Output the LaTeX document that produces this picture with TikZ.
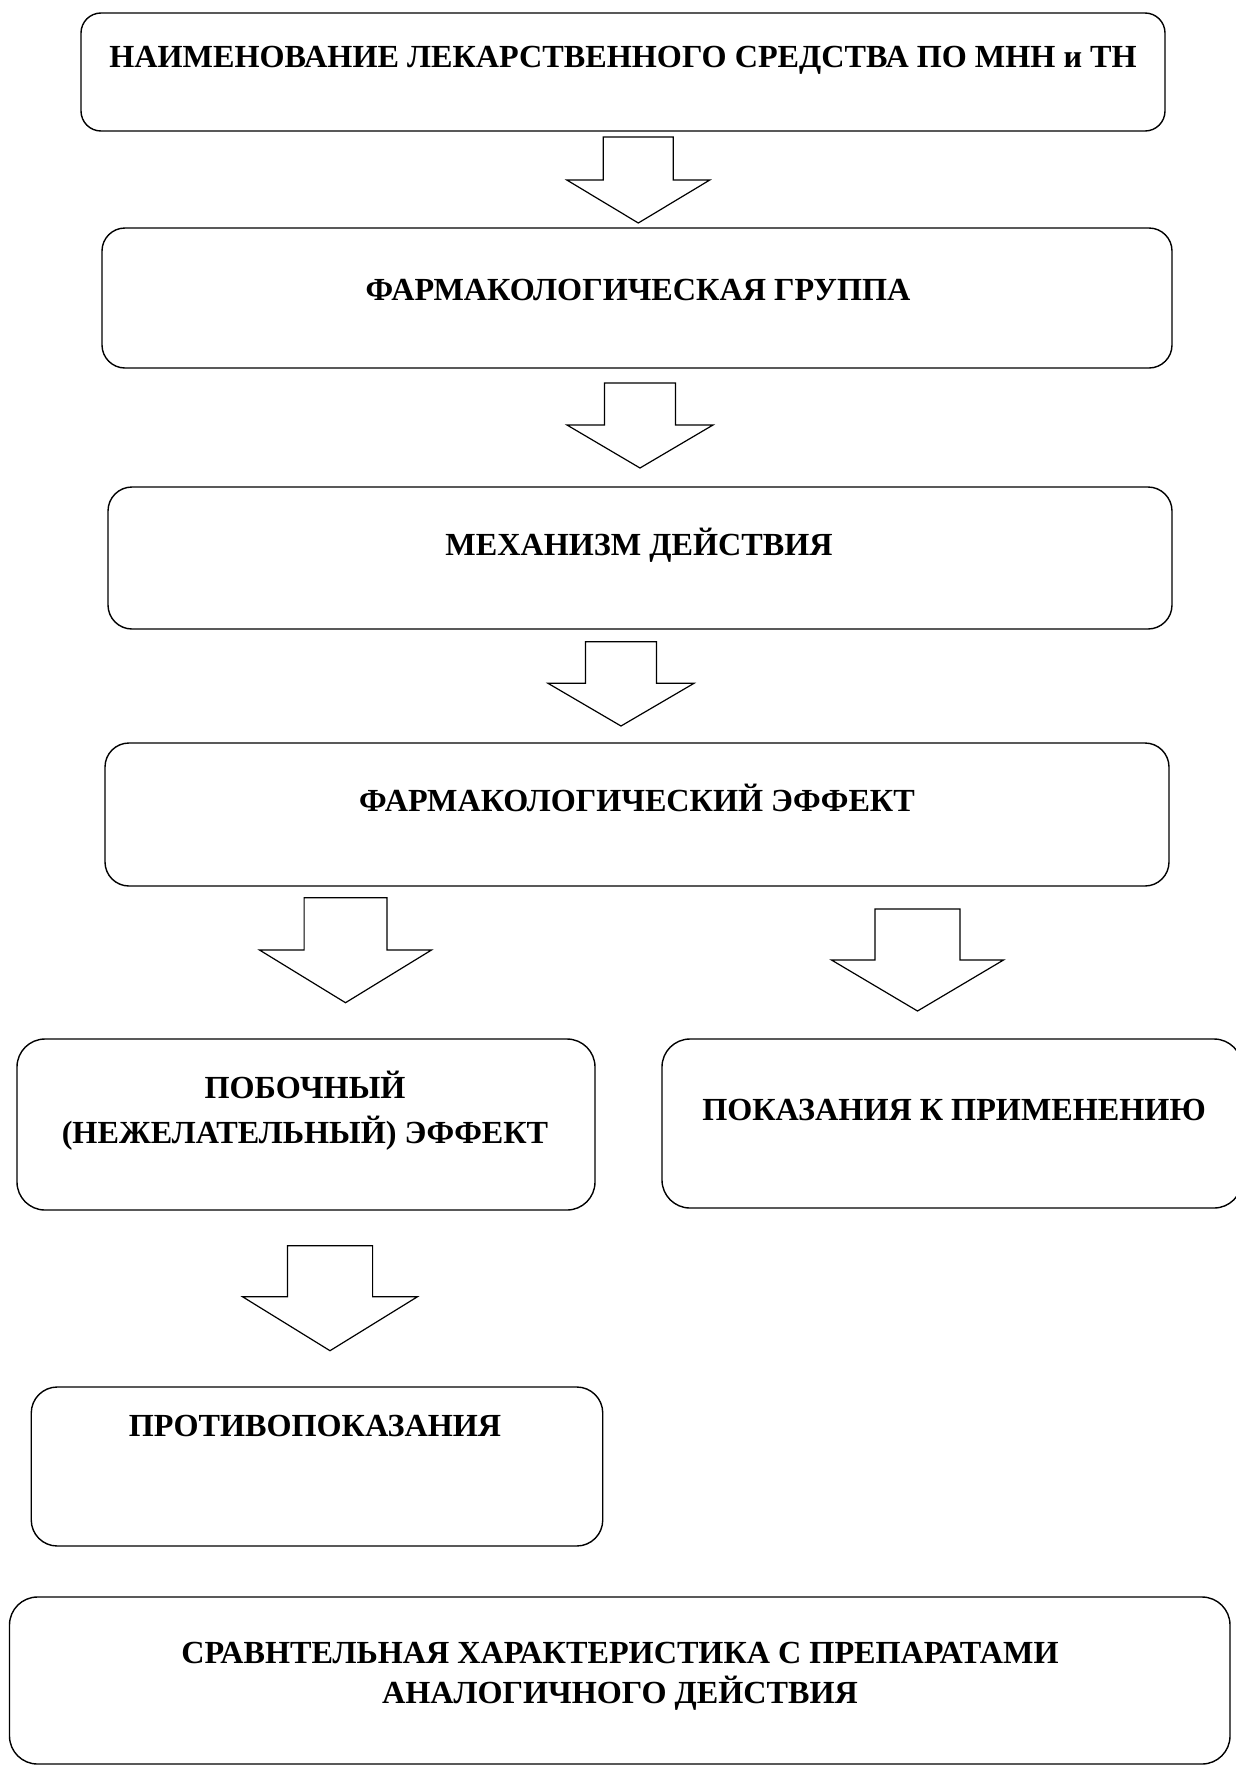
\documentclass[tikz,border=0pt]{standalone}
\usepackage{fontspec}
\setmainfont{Liberation Serif}
\newcommand\blockarrow[6]{% cx, shaft half, top, head base, head half, tip
  \draw[barrow] ({#1-#2},#3) -- ({#1+#2},#3) -- ({#1+#2},#4) -- ({#1+#5},#4)
    -- (#1,#6) -- ({#1-#5},#4) -- ({#1-#2},#4) -- cycle;}
\begin{document}
\begin{tikzpicture}[x=1pt,y=-1pt,
  box/.style={draw, line width=1.4pt, rectangle, inner sep=0pt, rounded corners=#1},
  box/.default=24pt,
  lbl/.style={font=\bfseries\fontsize{32.2}{40}\selectfont, inner sep=0pt, align=center, anchor=base},
  barrow/.style={draw, line width=1.2pt, line join=miter, fill=white}]
\useasboundingbox (0,0) rectangle (1236,1767);
\fill[white] (0,0) rectangle (1236,1767);
% boxes
\node[box=20pt, minimum width=1084pt, minimum height=118pt] (b1) at (623,72) {};
\node[box=23pt, minimum width=1070pt, minimum height=140pt] (b2) at (637,298) {};
\node[box=24pt, minimum width=1064pt, minimum height=142pt] (b3) at (640,558) {};
\node[box=24pt, minimum width=1064pt, minimum height=143pt] (b4) at (637,814.5) {};
\node[box=28pt, minimum width=578pt, minimum height=171pt] (b5) at (306,1124.5) {};
\node[box=28pt, minimum width=580pt, minimum height=169pt] (b6) at (952,1123.5) {};
\node[box=26pt, minimum width=571.5pt, minimum height=159pt] (b7) at (317,1466.5) {};
\node[box=28pt, minimum width=1220.5pt, minimum height=167pt] (b8) at (619.75,1680.5) {};
% labels
\node[lbl] (t1) at (623,67) {НАИМЕНОВАНИЕ ЛЕКАРСТВЕННОГО СРЕДСТВА ПО МНН и ТН};
\node[lbl] (t2) at (638,300) {ФАРМАКОЛОГИЧЕСКАЯ ГРУППА};
\node[lbl] (t3) at (639,555) {МЕХАНИЗМ ДЕЙСТВИЯ};
\node[lbl] (t4) at (637,811) {ФАРМАКОЛОГИЧЕСКИЙ ЭФФЕКТ};
\node[lbl, font=\bfseries\fontsize{32.2}{45}\selectfont] (t5) at (305,1143) {ПОБОЧНЫЙ\\(НЕЖЕЛАТЕЛЬНЫЙ) ЭФФЕКТ};
\node[lbl] (t6) at (954,1120) {ПОКАЗАНИЯ К ПРИМЕНЕНИЮ};
\node[lbl] (t7) at (315,1436) {ПРОТИВОПОКАЗАНИЯ};
\node[lbl, font=\bfseries\fontsize{32.2}{40}\selectfont] (t8) at (620,1703) {СРАВНТЕЛЬНАЯ ХАРАКТЕРИСТИКА С ПРЕПАРАТАМИ\\АНАЛОГИЧНОГО ДЕЙСТВИЯ};
% block arrows
\blockarrow{638.3}{35}{137}{180}{71.5}{223}
\blockarrow{640}{35.5}{383}{425}{73}{468}
\blockarrow{621}{35.5}{641.7}{683.3}{73}{726}
\blockarrow{345.5}{41.4}{897.7}{950}{86}{1002.7}
\blockarrow{917.5}{42.5}{909}{960}{86}{1011}
\blockarrow{330}{42.6}{1245.7}{1296.7}{87.5}{1350.7}
\end{tikzpicture}
\end{document}
